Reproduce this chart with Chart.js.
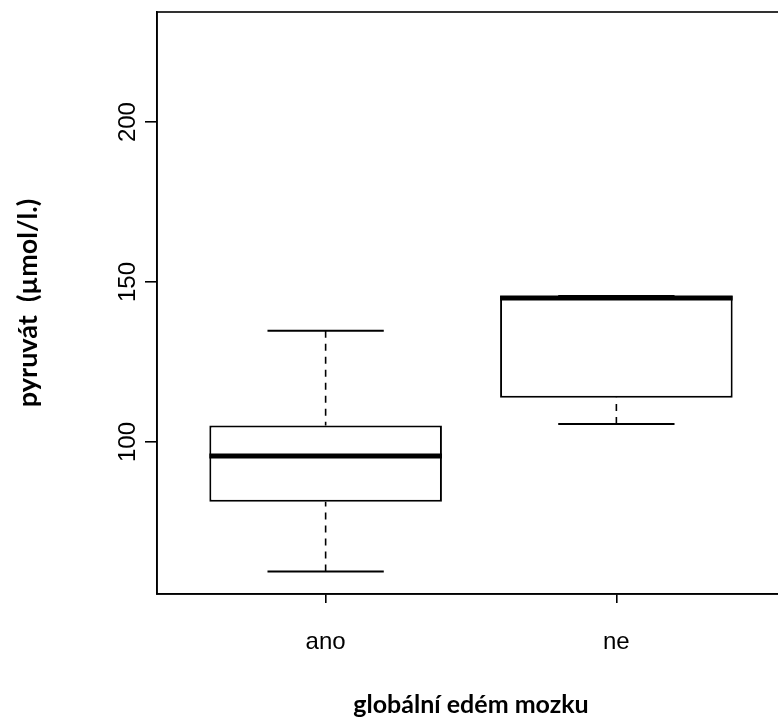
<!DOCTYPE html>
<html>
<head>
<meta charset="utf-8">
<script src="https://cdn.jsdelivr.net/npm/chart.js@4/dist/chart.umd.min.js"></script>
<style>
  html, body { margin: 0; padding: 0; background: #fff; overflow: hidden; }
  #wrap { width: 778px; height: 723px; overflow: hidden; }
  #box { display: block; }
</style>
</head>
<body>
<div id="wrap"><canvas id="box" width="800" height="723"></canvas></div>
<script>
// groups and five-number summaries
var categories = ['ano', 'ne'];
var minVals    = [59.5, 105.6];
var q1Vals     = [81.3, 113.8];
var medians    = [95.6, 145.0];
var q3Vals     = [105.2, 145.6];
var maxVals    = [134.8, 145.6];
var yTicks     = [100, 150, 200];

var xTitle = 'globální edém mozku';
var yTitle = 'pyruvát  (µmol/l.)';

// floating bars = the boxes
var boxData = categories.map(function(c, i) {
    return { x: i + 1, y: [q1Vals[i], q3Vals[i]] };
});

// medians, whiskers, frame and rotated labels, all through the scales
var boxExtras = {
    id: 'boxExtras',
    afterDatasetsDraw: function(chart) {
        var ctx = chart.ctx;
        var xs = chart.scales.x, ys = chart.scales.y;
        var half = xs.getPixelForValue(1.4) - xs.getPixelForValue(1);
        var capHalf = half / 2;
        ctx.save();
        ctx.strokeStyle = '#000';
        for (var i = 0; i < categories.length; i++) {
            var cx = xs.getPixelForValue(i + 1);
            // whiskers (dashed)
            ctx.lineWidth = 1.6;
            ctx.setLineDash([7, 6]);
            ctx.beginPath();
            ctx.moveTo(cx, ys.getPixelForValue(minVals[i]));
            ctx.lineTo(cx, ys.getPixelForValue(q1Vals[i]));
            ctx.moveTo(cx, ys.getPixelForValue(maxVals[i]));
            ctx.lineTo(cx, ys.getPixelForValue(q3Vals[i]));
            ctx.stroke();
            ctx.setLineDash([]);
            // caps
            ctx.lineWidth = 2;
            ctx.beginPath();
            ctx.moveTo(cx - capHalf, ys.getPixelForValue(minVals[i]));
            ctx.lineTo(cx + capHalf, ys.getPixelForValue(minVals[i]));
            ctx.moveTo(cx - capHalf, ys.getPixelForValue(maxVals[i]));
            ctx.lineTo(cx + capHalf, ys.getPixelForValue(maxVals[i]));
            ctx.stroke();
            // median
            ctx.lineWidth = 5;
            ctx.beginPath();
            ctx.moveTo(cx - half, ys.getPixelForValue(medians[i]));
            ctx.lineTo(cx + half, ys.getPixelForValue(medians[i]));
            ctx.stroke();
        }
        // frame
        var a = chart.chartArea;
        ctx.lineWidth = 1.6;
        ctx.strokeRect(a.left, a.top, a.right - a.left, a.bottom - a.top);

        // y tick labels, rotated like R
        ctx.fillStyle = '#000';
        ctx.font = '24px "Liberation Sans", Arial, sans-serif';
        ctx.textAlign = 'center';
        ctx.textBaseline = 'middle';
        yTicks.forEach(function(v) {
            ctx.save();
            ctx.translate(128, ys.getPixelForValue(v));
            ctx.rotate(-Math.PI / 2);
            ctx.fillText(String(v), 0, 0);
            ctx.restore();
        });
        // x tick labels
        categories.forEach(function(c, i) {
            ctx.fillText(c, xs.getPixelForValue(i + 1), 642);
        });
        // axis titles
        ctx.font = 'bold 25px Lato, "Open Sans", sans-serif';
        ctx.fillText(xTitle, (a.left + a.right) / 2, 705);
        ctx.save();
        ctx.translate(28, (a.top + a.bottom) / 2);
        ctx.rotate(-Math.PI / 2);
        ctx.font = 'bold 27px Lato, "Open Sans", sans-serif';
        ctx.fillText(yTitle, 0, 0);
        ctx.restore();
        ctx.restore();
    }
};

new Chart(document.getElementById('box'), {
    type: 'bar',
    data: {
        datasets: [{
            data: boxData,
            backgroundColor: '#ffffff',
            borderColor: '#000000',
            borderWidth: 2,
            borderSkipped: false,
            grouped: false,
            barPercentage: 0.8,
            categoryPercentage: 1.0
        }]
    },
    options: {
        responsive: false,
        animation: false,
        devicePixelRatio: 1,
        layout: { padding: { top: 12, right: 15, left: 0, bottom: 0 } },
        plugins: { legend: { display: false }, tooltip: { enabled: false } },
        scales: {
            x: {
                type: 'linear',
                min: 0.42,
                max: 2.58,
                offset: false,
                afterBuildTicks: function(s) { s.ticks = [{ value: 1 }, { value: 2 }]; },
                afterFit: function(s) { s.height = 129; },
                ticks: { display: false },
                grid: { offset: false, drawOnChartArea: false, tickLength: 9, color: '#000', lineWidth: 1.6 },
                border: { display: true, color: '#000', width: 1.6 }
            },
            y: {
                min: 52.5,
                max: 234.4,
                afterBuildTicks: function(s) { s.ticks = yTicks.map(function(v) { return { value: v }; }); },
                afterFit: function(s) { s.width = 157; },
                ticks: { display: false },
                grid: { drawOnChartArea: false, tickLength: 12, color: '#000', lineWidth: 1.6 },
                border: { display: true, color: '#000', width: 1.6 }
            }
        }
    },
    plugins: [boxExtras]
});
</script>
</body>
</html>
